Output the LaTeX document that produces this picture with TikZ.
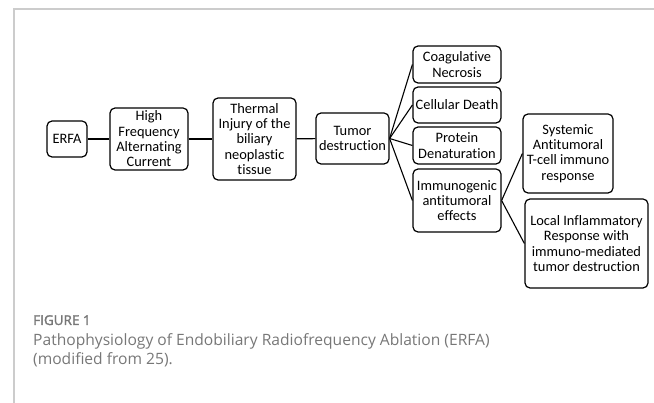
\documentclass[tikz,border=0pt]{standalone}
\usepackage{fontspec}
\setmainfont[Ligatures=NoCommon]{Carlito}
\newfontfamily\captionfont{Open Sans}
\newfontfamily\figlabelfont[FakeBold=2]{Open Sans}
\usepackage{xcolor}
\definecolor{framegray}{HTML}{CCCCCC}
\definecolor{captiongray}{HTML}{777777}
\tikzset{box/.style = {draw, line width=1.2pt, rounded corners=5pt, align=center,
                       inner sep=1pt, font=\fontsize{14.4}{15.3}\selectfont},
         link/.style = {line width=1.1pt}}

\begin{document}
\begin{tikzpicture}[x=1pt, y=-1pt]
    \useasboundingbox (0,0) rectangle (654,403);
    \draw[framegray, line width=1.3pt] (654,9) -- (14,9) -- (14,403);

    \node[box, minimum width=40pt, minimum height=36pt] (erfa) at (67,139) {ERFA};
    \node[box, minimum width=78pt, minimum height=62pt] (hfac) at (149,139) {High\\Frequency\\Alternating\\Current};
    \node[box, minimum width=83pt, minimum height=82pt] (thermal) at (254.5,139) {Thermal\\Injury of the\\biliary\\neoplastic\\tissue};
    \node[box, minimum width=73pt, minimum height=51pt] (tumor) at (352.5,138.5) {Tumor\\destruction};
    \node[box, minimum width=88pt, minimum height=37pt] (coag) at (457,64.5) {Coagulative\\Necrosis};
    \node[box, minimum width=88pt, minimum height=36pt] (cell) at (457,105) {Cellular Death};
    \node[box, minimum width=88pt, minimum height=37pt] (protein) at (457,145.5) {Protein\\Denaturation};
    \node[box, minimum width=88pt, minimum height=63pt] (immuno) at (457,200.5) {Immunogenic\\antitumoral\\effects};
    \node[box, minimum width=90pt, minimum height=79pt] (systemic) at (568,153.5) {Systemic\\Antitumoral\\T-cell immuno\\response};
    \node[box, minimum width=123pt, minimum height=89pt] (local) at (586.5,243.5) {Local Inflammatory\\Response with\\immuno-mediated\\tumor destruction};

    \draw[link] (erfa) -- (hfac);
    \draw[link] (hfac) -- (thermal);
    \draw[link] (thermal) -- (tumor);
    \foreach \child in {coag, cell, protein, immuno}
        \draw[link] (tumor.east) -- (\child.west);
    \draw[link] (immuno.east) -- (systemic.west);
    \draw[link] (immuno.east) -- (local.west);

    \node[anchor=base west, inner sep=0pt, captiongray, font=\figlabelfont\fontsize{13.5}{16}\selectfont] (fig) at (33,325) {FIGURE 1};
    \node[anchor=base west, inner sep=0pt, captiongray, font=\captionfont\fontsize{15.6}{19}\selectfont] (capone) at (33,346) {Pathophysiology of Endobiliary Radiofrequency Ablation (ERFA)};
    \node[anchor=base west, inner sep=0pt, captiongray, font=\captionfont\fontsize{15.6}{19}\selectfont] (captwo) at (33,365) {(modified from 25).};
\end{tikzpicture}
\end{document}
